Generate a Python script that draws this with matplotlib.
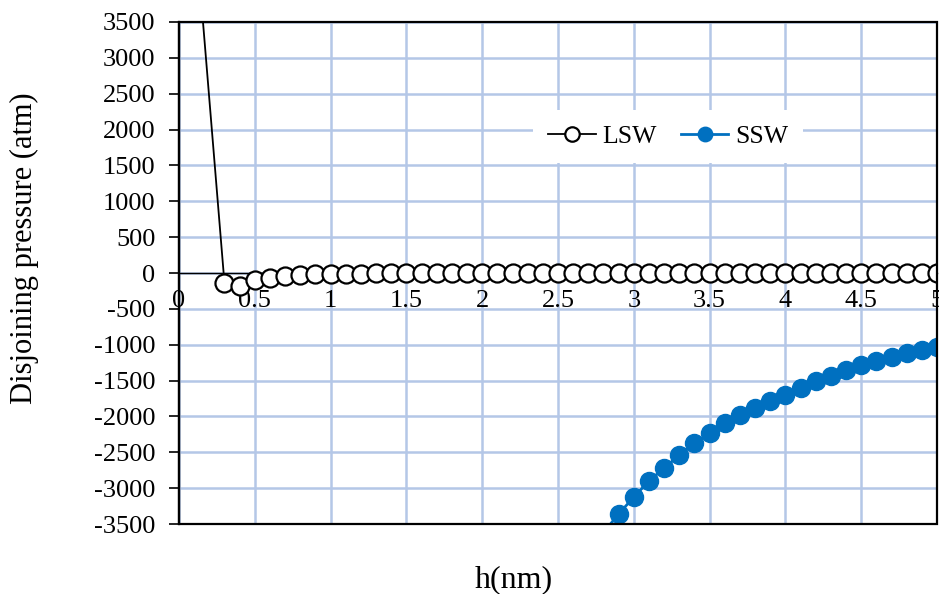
import numpy as np
import matplotlib
matplotlib.use('Agg')
import matplotlib.pyplot as plt
from matplotlib.patches import Rectangle
from matplotlib.ticker import MultipleLocator, FuncFormatter

plt.rcParams['font.family'] = 'Liberation Serif'
plt.rcParams['axes.unicode_minus'] = False

# LSW series (h in nm, pressure in atm)
h_lsw = [0.1, 0.3, 0.4, 0.5, 0.6, 0.7, 0.8, 0.9, 1.0,
         1.1, 1.2, 1.3, 1.4, 1.5, 1.6, 1.7, 1.8, 1.9, 2.0,
         2.1, 2.2, 2.3, 2.4, 2.5, 2.6, 2.7, 2.8, 2.9, 3.0,
         3.1, 3.2, 3.3, 3.4, 3.5, 3.6, 3.7, 3.8, 3.9, 4.0,
         4.1, 4.2, 4.3, 4.4, 4.5, 4.6, 4.7, 4.8, 4.9, 5.0]
p_lsw = [5000, -140, -180, -100, -65, -45, -30, -20, -15,
         -10, -8, -6, -5, -4, -3, -3, -2, -2, -2,
         -1, -1, -1, -1, -1, -1, -1, -1, -1, -1,
         0, 0, 0, 0, 0, 0, 0, 0, 0, 0,
         0, 0, 0, 0, 0, 0, 0, 0, 0, 0]

# SSW series
h_ssw = [2.8, 2.9, 3.0, 3.1, 3.2, 3.3, 3.4, 3.5, 3.6, 3.7, 3.8,
         3.9, 4.0, 4.1, 4.2, 4.3, 4.4, 4.5, 4.6, 4.7, 4.8, 4.9, 5.0]
p_ssw = [-3620, -3360, -3124, -2900, -2720, -2540, -2370, -2230, -2090, -1980, -1880,
         -1785, -1700, -1600, -1505, -1435, -1350, -1283, -1227, -1170, -1115, -1075, -1030]

fig = plt.figure(figsize=(9.39, 5.94), dpi=100)
ax = fig.add_axes([0.1906, 0.1178, 0.8073, 0.8452])

ax.plot(h_lsw, p_lsw, color='black', lw=1.3, marker='o', markersize=13,
        markerfacecolor='white', markeredgecolor='black', markeredgewidth=1.6,
        label='LSW', zorder=4)
ax.plot(h_ssw, p_ssw, color='#0070c0', lw=2, marker='o', markersize=13,
        markerfacecolor='#0070c0', markeredgecolor='#0070c0',
        label='SSW', zorder=4)

ax.set_xlim(0, 5)
ax.set_ylim(-3500, 3500)
ax.xaxis.set_major_locator(MultipleLocator(0.5))
ax.yaxis.set_major_locator(MultipleLocator(500))
ax.xaxis.set_major_formatter(FuncFormatter(lambda v, p: '%g' % v))
ax.grid(True, color='#b4c7e7', lw=1.8, zorder=0)
ax.set_axisbelow(True)

# x axis crosses at zero
ax.spines['bottom'].set_position(('data', 0))
ax.spines['bottom'].set_linewidth(1.0)
ax.spines['top'].set_visible(False)
ax.spines['right'].set_visible(False)
ax.spines['left'].set_linewidth(1.6)
ax.add_patch(Rectangle((0, 0), 1, 1, transform=ax.transAxes, fill=False,
                       edgecolor='black', lw=1.6, zorder=6, clip_on=False))

ax.tick_params(axis='x', length=0, pad=12, labelsize=19)
ax.tick_params(axis='y', length=7, width=1.2, direction='out', pad=10, labelsize=19)

ax.set_ylabel('Disjoining pressure (atm)', fontsize=22)
ax.yaxis.set_label_coords(-0.184, 0.55)
fig.text(0.547, 0.0236, 'h(nm)', fontsize=23, ha='center', va='center')

leg = ax.legend(loc='center', bbox_to_anchor=(0.645, 0.772), ncol=2, fontsize=18.5,
                frameon=True, fancybox=False, edgecolor='none', facecolor='white',
                framealpha=1, handlelength=1.85, columnspacing=0.95, handletextpad=0.25,
                borderpad=0.6, markerscale=0.8)

fig.savefig('out.png', dpi=100)
